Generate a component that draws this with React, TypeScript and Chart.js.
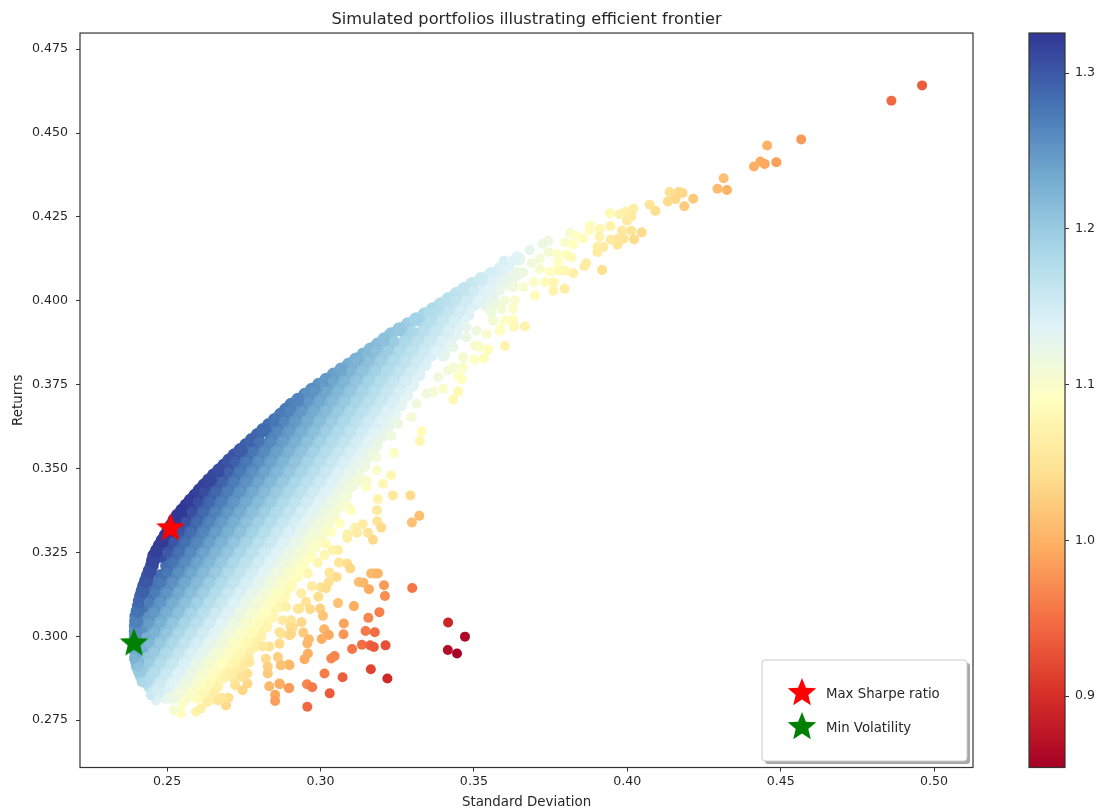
import React, { useEffect, useRef } from "react";
import { Chart, registerables } from "chart.js";

Chart.register(...registerables);

const xTicks = [0.25, 0.3, 0.35, 0.4, 0.45, 0.5];
const yTicks = [0.275, 0.3, 0.325, 0.35, 0.375, 0.4, 0.425, 0.45, 0.475];
const barTicks = [0.9, 1.0, 1.1, 1.2, 1.3];
const legendLabels = ["Max Sharpe ratio", "Min Volatility"];

const maxSharpePoint = [{ x: 0.2511, y: 0.3325 }];
const minVolPoint = [{ x: 0.2392, y: 0.2982 }];

// Dense body: returns level, then (std dev, Sharpe) pairs read along that level
const coreReturns = [.282,.285,.288,.291,.294,.297,.3,.303,.306,.309,.312,.315,.318,.321,.324,.327,.33,.333,.336,.339,.342,.345,.348,.351,.354,.357,.36,.363,.366,.369,.372,.375,.378,.381,.384,.387,.39,.393,.396,.399,.402,.405,.408];
const coreRows = [
[.2495,1.13,.252,1.12,.256,1.1,.26,1.085,.264,1.07],
[.2445,1.166,.246,1.159,.25,1.14,.254,1.122,.258,1.105,.262,1.088,.266,1.071],
[.2418,1.19,.244,1.18,.248,1.161,.252,1.143,.256,1.125,.26,1.108,.264,1.091,.268,1.075,.272,1.059],
[.2405,1.21,.242,1.202,.246,1.183,.25,1.164,.254,1.146,.258,1.128,.262,1.111,.266,1.094,.27,1.078,.274,1.062],
[.24,1.225,.244,1.205,.248,1.185,.252,1.167,.256,1.148,.26,1.131,.264,1.114,.268,1.097,.272,1.081,.276,1.065],
[.2399,1.238,.242,1.227,.246,1.207,.25,1.188,.254,1.169,.258,1.151,.262,1.134,.266,1.117,.27,1.1,.274,1.084,.278,1.068],
[.2398,1.251,.244,1.23,.248,1.21,.252,1.19,.256,1.172,.26,1.154,.264,1.136,.268,1.119,.272,1.103,.276,1.087,.28,1.071],
[.2398,1.264,.242,1.252,.246,1.232,.25,1.212,.254,1.193,.258,1.174,.262,1.156,.266,1.139,.27,1.122,.274,1.106,.278,1.09,.282,1.074],
[.24,1.275,.244,1.254,.248,1.234,.252,1.214,.256,1.195,.26,1.177,.264,1.159,.268,1.142,.272,1.125,.276,1.109,.28,1.093,.284,1.077],
[.2408,1.283,.242,1.277,.246,1.256,.25,1.236,.254,1.217,.258,1.198,.262,1.179,.266,1.162,.27,1.144,.274,1.128,.278,1.112,.282,1.096,.286,1.08],
[.2415,1.292,.244,1.279,.248,1.258,.252,1.238,.256,1.219,.26,1.2,.264,1.182,.268,1.164,.272,1.147,.276,1.13,.28,1.114,.284,1.099,.288,1.083],
[.2425,1.299,.246,1.28,.25,1.26,.254,1.24,.258,1.221,.262,1.202,.266,1.184,.27,1.167,.274,1.15,.278,1.133,.282,1.117,.286,1.101,.29,1.086],
[.2437,1.305,.248,1.282,.252,1.262,.256,1.242,.26,1.223,.264,1.205,.268,1.187,.272,1.169,.276,1.152,.28,1.136,.284,1.12,.288,1.104,.292,1.089],
[.245,1.31,.25,1.284,.254,1.264,.258,1.244,.262,1.225,.266,1.207,.27,1.189,.274,1.172,.278,1.155,.282,1.138,.286,1.122,.29,1.107,.294,1.092],
[.2458,1.318,.248,1.306,.252,1.286,.256,1.266,.26,1.246,.264,1.227,.268,1.209,.272,1.191,.276,1.174,.28,1.157,.284,1.141,.288,1.125,.292,1.11,.296,1.095],
[.2476,1.321,.25,1.308,.254,1.287,.258,1.267,.262,1.248,.266,1.229,.27,1.211,.274,1.193,.278,1.176,.282,1.16,.286,1.143,.29,1.128,.294,1.112,.298,1.097],
[.2495,1.323,.252,1.31,.256,1.289,.26,1.269,.264,1.25,.268,1.231,.272,1.213,.276,1.196,.28,1.179,.284,1.162,.288,1.146,.292,1.13,.296,1.115,.3,1.1],
[.2514,1.325,.254,1.311,.258,1.291,.262,1.271,.266,1.252,.27,1.233,.274,1.215,.278,1.198,.282,1.181,.286,1.164,.29,1.148,.294,1.133,.298,1.117,.302,1.103],
[.2535,1.325,.256,1.313,.26,1.292,.264,1.273,.268,1.254,.272,1.235,.276,1.217,.28,1.2,.284,1.183,.288,1.167,.292,1.151,.296,1.135,.3,1.12,.304,1.105],
[.2563,1.323,.258,1.314,.262,1.294,.266,1.274,.27,1.256,.274,1.237,.278,1.219,.282,1.202,.286,1.185,.29,1.169,.294,1.153,.298,1.138,.302,1.123,.306,1.108],
[.2592,1.319,.26,1.315,.264,1.295,.268,1.276,.272,1.257,.276,1.239,.28,1.221,.284,1.204,.288,1.188,.292,1.171,.296,1.155,.3,1.14,.304,1.125,.308,1.11],
[.2621,1.316,.266,1.297,.27,1.278,.274,1.259,.278,1.241,.282,1.223,.286,1.206,.29,1.19,.294,1.173,.298,1.158,.302,1.142,.306,1.127,.31,1.113],
[.2653,1.312,.268,1.299,.272,1.279,.276,1.261,.28,1.243,.284,1.225,.288,1.208,.292,1.192,.296,1.176,.3,1.16,.304,1.145,.308,1.13,.312,1.115],
[.2687,1.306,.27,1.3,.274,1.281,.278,1.263,.282,1.245,.286,1.227,.29,1.21,.294,1.194,.298,1.178,.302,1.162,.306,1.147,.31,1.132,.314,1.118],
[.272,1.301,.276,1.283,.28,1.264,.284,1.246,.288,1.229,.292,1.212,.296,1.196,.3,1.18,.304,1.164,.308,1.149,.312,1.135,.316,1.12],
[.2758,1.294,.278,1.284,.282,1.266,.286,1.248,.29,1.231,.294,1.214,.298,1.198,.302,1.182,.306,1.167,.31,1.152,.314,1.137,.318,1.123],
[.2795,1.288,.284,1.268,.288,1.25,.292,1.233,.296,1.216,.3,1.2,.304,1.184,.308,1.169,.312,1.154,.316,1.139,.32,1.125],
[.2832,1.282,.286,1.269,.29,1.252,.294,1.235,.298,1.218,.302,1.202,.306,1.186,.31,1.171,.314,1.156,.318,1.142,.322,1.127],
[.287,1.275,.288,1.271,.292,1.253,.296,1.236,.3,1.22,.304,1.204,.308,1.188,.312,1.173,.316,1.158,.32,1.144,.324,1.13],
[.2905,1.27,.294,1.255,.298,1.238,.302,1.222,.306,1.206,.31,1.19,.314,1.175,.318,1.16,.322,1.146,.326,1.132],
[.295,1.261,.296,1.257,.3,1.24,.304,1.224,.308,1.208,.312,1.192,.316,1.177,.32,1.163,.324,1.148,.328,1.134],
[.2995,1.252,.302,1.242,.306,1.225,.31,1.21,.314,1.194,.318,1.179,.322,1.165,.326,1.15,.33,1.136],
[.3043,1.242,.308,1.227,.312,1.212,.316,1.196,.32,1.181,.324,1.167,.328,1.152,.332,1.139],
[.3093,1.232,.31,1.229,.314,1.213,.318,1.198,.322,1.183,.326,1.169,.33,1.155,.334,1.141],
[.314,1.223,.316,1.215,.32,1.2,.324,1.185,.328,1.171,.332,1.157,.336,1.143,.34,1.129],
[.3187,1.214,.322,1.202,.326,1.187,.33,1.173,.334,1.159,.338,1.145,.342,1.132],
[.323,1.207,.328,1.189,.332,1.175,.336,1.161,.34,1.147,.344,1.134],
[.3285,1.196,.334,1.177,.338,1.163,.342,1.149,.346,1.136],
[.334,1.186,.336,1.179,.34,1.165,.344,1.151,.348,1.138],
[.3392,1.176,.342,1.167,.346,1.153,.35,1.14,.354,1.127],
[.3443,1.168,.348,1.155,.352,1.142,.356,1.129],
[.3494,1.159,.354,1.144,.358,1.131,.362,1.119],
[.3555,1.148,.36,1.133,.364,1.121],
];

// Finer points lying between the body's levels
const fineReturns = [.283,.286,.289,.292,.295,.298,.301,.304,.307,.31,.313,.316,.319,.322,.325,.328,.331,.334,.337,.34,.343,.346,.349,.352,.355,.358,.361,.364,.367,.37,.373,.376,.379,.382,.385,.388,.391,.394,.397,.4,.403,.406];
const fineRows = [
[.254,1.114,.258,1.097,.262,1.08],
[.248,1.153,.252,1.135,.256,1.117,.26,1.1,.264,1.083],
[.246,1.175,.25,1.156,.254,1.138,.258,1.12,.262,1.103,.266,1.086,.27,1.07],
[.244,1.197,.248,1.177,.252,1.159,.256,1.141,.26,1.123,.264,1.106,.268,1.09,.272,1.074],
[.246,1.199,.25,1.18,.254,1.161,.258,1.143,.262,1.126,.266,1.109,.27,1.093,.274,1.077],
[.244,1.221,.248,1.202,.252,1.183,.256,1.164,.26,1.146,.264,1.129,.268,1.112,.272,1.096,.276,1.08],
[.246,1.224,.25,1.204,.254,1.185,.258,1.167,.262,1.149,.266,1.132,.27,1.115,.274,1.099,.278,1.083],
[.244,1.246,.248,1.226,.252,1.206,.256,1.188,.26,1.169,.264,1.152,.268,1.134,.272,1.118,.276,1.101,.28,1.086],
[.246,1.248,.25,1.228,.254,1.209,.258,1.19,.262,1.172,.266,1.154,.27,1.137,.274,1.12,.278,1.104,.282,1.089],
[.244,1.27,.248,1.25,.252,1.23,.256,1.211,.26,1.192,.264,1.174,.268,1.157,.272,1.14,.276,1.123,.28,1.107,.284,1.092],
[.246,1.272,.25,1.252,.254,1.232,.258,1.213,.262,1.195,.266,1.177,.27,1.159,.274,1.142,.278,1.126,.282,1.11,.286,1.094],
[.248,1.274,.252,1.254,.256,1.234,.26,1.215,.264,1.197,.268,1.179,.272,1.162,.276,1.145,.28,1.129,.284,1.113,.288,1.097],
[.25,1.276,.254,1.256,.258,1.236,.262,1.218,.266,1.199,.27,1.181,.274,1.164,.278,1.147,.282,1.131,.286,1.115,.29,1.1],
[.252,1.278,.256,1.258,.26,1.238,.264,1.22,.268,1.201,.272,1.184,.276,1.167,.28,1.15,.284,1.134,.288,1.118,.292,1.103],
[.25,1.3,.254,1.28,.258,1.26,.262,1.24,.266,1.222,.27,1.204,.274,1.186,.278,1.169,.282,1.152,.286,1.136,.29,1.121,.294,1.105],
[.252,1.302,.256,1.281,.26,1.262,.264,1.242,.268,1.224,.272,1.206,.276,1.188,.28,1.171,.284,1.155,.288,1.139,.292,1.123,.296,1.108],
[.254,1.303,.258,1.283,.262,1.263,.266,1.244,.27,1.226,.274,1.208,.278,1.191,.282,1.174,.286,1.157,.29,1.141,.294,1.126,.298,1.111],
[.256,1.305,.26,1.285,.264,1.265,.268,1.246,.272,1.228,.276,1.21,.28,1.193,.284,1.176,.288,1.16,.292,1.144,.296,1.128,.3,1.113],
[.258,1.306,.262,1.286,.266,1.267,.27,1.248,.274,1.23,.278,1.212,.282,1.195,.286,1.178,.29,1.162,.294,1.146,.298,1.131,.302,1.116],
[.26,1.308,.264,1.288,.268,1.269,.272,1.25,.276,1.232,.28,1.214,.284,1.197,.288,1.181,.292,1.164,.296,1.149,.3,1.133,.304,1.118],
[.262,1.309,.266,1.289,.27,1.27,.274,1.252,.278,1.234,.282,1.216,.286,1.199,.29,1.183,.294,1.167,.298,1.151,.302,1.136,.306,1.121],
[.268,1.291,.272,1.272,.276,1.254,.28,1.236,.284,1.218,.288,1.201,.292,1.185,.296,1.169,.3,1.153,.304,1.138,.308,1.123],
[.27,1.293,.274,1.274,.278,1.255,.282,1.238,.286,1.22,.29,1.203,.294,1.187,.298,1.171,.302,1.156,.306,1.14,.31,1.126],
[.272,1.294,.276,1.275,.28,1.257,.284,1.239,.288,1.222,.292,1.205,.296,1.189,.3,1.173,.304,1.158,.308,1.143,.312,1.128],
[.278,1.277,.282,1.259,.286,1.241,.29,1.224,.294,1.207,.298,1.191,.302,1.175,.306,1.16,.31,1.145,.314,1.131],
[.28,1.279,.284,1.261,.288,1.243,.292,1.226,.296,1.209,.3,1.193,.304,1.178,.308,1.162,.312,1.147,.316,1.133],
[.286,1.262,.29,1.245,.294,1.228,.298,1.211,.302,1.195,.306,1.18,.31,1.165,.314,1.15,.318,1.135],
[.288,1.264,.292,1.247,.296,1.23,.3,1.213,.304,1.197,.308,1.182,.312,1.167,.316,1.152,.32,1.138],
[.29,1.266,.294,1.248,.298,1.232,.302,1.215,.306,1.199,.31,1.184,.314,1.169,.318,1.154,.322,1.14],
[.296,1.25,.3,1.233,.304,1.217,.308,1.201,.312,1.186,.316,1.171,.32,1.156,.324,1.142],
[.298,1.252,.302,1.235,.306,1.219,.31,1.203,.314,1.188,.318,1.173,.322,1.158,.326,1.144],
[.304,1.237,.308,1.221,.312,1.205,.316,1.19,.32,1.175,.324,1.16,.328,1.146],
[.31,1.223,.314,1.207,.318,1.192,.322,1.177,.326,1.163,.33,1.148],
[.312,1.224,.316,1.209,.32,1.194,.324,1.179,.328,1.165,.332,1.151],
[.318,1.211,.322,1.196,.326,1.181,.33,1.167,.334,1.153,.338,1.139],
[.324,1.198,.328,1.183,.332,1.169,.336,1.155,.34,1.141],
[.33,1.185,.334,1.171,.338,1.157,.342,1.143],
[.336,1.173,.34,1.159,.344,1.145],
[.338,1.175,.342,1.161,.346,1.147],
[.344,1.163,.348,1.149,.352,1.136],
[.35,1.151,.354,1.138],
[.356,1.14,.36,1.128],
];

// Frontier rim: [std dev, return, Sharpe]
const frontierRim = [
[.247,.2835,1.148],[.2431,.2865,1.178],[.2411,.2895,1.2],[.2402,.2925,1.218],[.2399,.2955,1.232],[.2398,.2985,1.245],[.2398,.3015,1.257],[.2399,.3045,1.269],[.2404,.3075,1.279],[.2411,.3105,1.288],[.242,.3135,1.295],[.2431,.3165,1.302],[.2443,.3195,1.308],[.2454,.3225,1.314],[.2467,.3255,1.319],[.2485,.3285,1.322],[.2504,.3315,1.324],[.2524,.3345,1.325],[.2549,.3375,1.324],[.2577,.3405,1.321],[.2606,.3435,1.318],[.2637,.3465,1.314],[.267,.3495,1.309],[.2703,.3525,1.304],[.2739,.3555,1.298],[.2776,.3585,1.291],[.2813,.3615,1.285],[.2851,.3645,1.278],[.2887,.3675,1.273],[.2927,.3705,1.266],[.2972,.3735,1.257],[.3019,.3765,1.247],[.3068,.3795,1.237],[.3116,.3825,1.227],[.3163,.3855,1.219],[.3208,.3885,1.211],[.3257,.3915,1.202],[.3312,.3945,1.191],[.3366,.3975,1.181],[.3417,.4005,1.172],[.3468,.4035,1.163],[.3524,.4065,1.153],[.3585,.4095,1.142],[.361,.411,1.137],[.3645,.4125,1.131],
];

// Separate points: [std dev, return, Sharpe]
const upperTail = [
[.4961,.4642,.936],[.4861,.4596,.945],[.4567,.4481,.981],[.4456,.4463,1.0],[.4486,.4413,.984],[.4434,.4415,.996],[.4448,.4408,.991],[.4413,.44,.997],[.4314,.4365,1.012],[.4294,.4334,1.009],[.4325,.433,1.001],[.4215,.4304,1.021],[.4186,.4282,1.023],[.418,.4321,1.034],[.4168,.4324,1.037],[.4138,.4324,1.045],[.4157,.4303,1.035],[.4132,.4296,1.04],[.4073,.4286,1.052],[.4092,.4268,1.043],[.402,.4274,1.063],[.3995,.4265,1.068],[.3975,.4258,1.071],[.3943,.4261,1.081],[.4013,.4251,1.059],[.3999,.4239,1.06],[.3945,.4223,1.07],[.4047,.4204,1.039],[.4013,.4209,1.049],[.3983,.4209,1.057],[.4022,.4183,1.04],[.3988,.4185,1.049],[.3968,.4167,1.05],[.3946,.4182,1.06],[.3971,.4185,1.054],[.3879,.4224,1.089],[.3911,.4214,1.078],[.3877,.4211,1.086],[.3909,.419,1.072],[.3922,.416,1.061],[.3903,.416,1.066],[.3903,.4145,1.062],[.3855,.4186,1.086],[.3813,.4203,1.102],[.3833,.4194,1.094],[.3797,.4174,1.099],[.3824,.4168,1.09],[.3743,.4179,1.116],[.3724,.417,1.12],[.3682,.4151,1.127],[.3639,.4132,1.135],[.3598,.4119,1.145],[.3623,.412,1.137],[.3585,.409,1.141],[.3563,.4085,1.146],[.3866,.4112,1.064],[.386,.4103,1.063],[.3918,.4092,1.044],[.3824,.4082,1.067],[.3797,.409,1.077],[.3775,.409,1.083],[.3748,.4087,1.09],[.3775,.4115,1.09],[.3743,.4145,1.107],[.377,.414,1.098],[.38,.4138,1.089],[.3817,.413,1.082],[.3715,.4125,1.11],[.3688,.4112,1.115],[.3715,.4095,1.102],[.3661,.4085,1.116],[.3634,.408,1.123],[.3733,.4055,1.086],[.3761,.4055,1.078],[.3759,.403,1.072],[.3796,.4036,1.063],[.3699,.4016,1.086],[.3696,.4055,1.097],[.3661,.4041,1.104],[.3628,.4041,1.114],[.3596,.4051,1.127],[.3585,.4031,1.124],[.3557,.4041,1.136],[.3634,.4001,1.101],[.3601,.4001,1.111],[.3574,.3991,1.117],[.3628,.3976,1.096],[.359,.3976,1.108],[.3557,.3966,1.115],[.3628,.3943,1.087],[.3601,.3941,1.094],[.3666,.3924,1.07],[.363,.3923,1.081],[.3585,.3916,1.092],
];
const upperFringe = [
[.3601,.3865,1.073],[.3547,.3854,1.087],[.3533,.3829,1.084],[.3501,.3825,1.093],[.3503,.3867,1.104],[.3476,.3891,1.12],[.3465,.3832,1.106],[.3465,.3802,1.097],[.3449,.3777,1.095],[.346,.3767,1.089],[.3449,.373,1.081],[.3433,.3706,1.08],[.34,.3738,1.099],[.3367,.3728,1.107],[.3345,.3723,1.113],[.3416,.3792,1.11],[.3384,.3772,1.115],[.3313,.3693,1.115],[.3297,.3653,1.108],[.3253,.3633,1.117],[.333,.3611,1.085],[.3324,.3582,1.078],[.324,.3546,1.094],[.3231,.3598,1.114],[.3171,.3549,1.119],[.3182,.3534,1.111],[.3563,.3941,1.106],[.3542,.3901,1.101],[.3585,.3911,1.091],[.3509,.3911,1.115],[.3476,.3921,1.128],[.3552,.3971,1.118],[.352,.3862,1.097],[.3433,.3802,1.107],[.3433,.3862,1.125],
];
const middleFringe = [
[.3293,.342,1.039],[.3236,.342,1.057],[.3322,.3359,1.011],[.3298,.3339,1.012],[.323,.348,1.077],[.3204,.3455,1.078],[.3184,.3495,1.098],[.3187,.3409,1.07],[.3184,.3376,1.06],[.3185,.3343,1.05],[.3198,.3324,1.039],[.3138,.3334,1.062],[.3155,.3309,1.049],[.3171,.3288,1.037],[.3113,.3324,1.068],[.3119,.3309,1.061],[.3087,.3304,1.07],[.3087,.3293,1.067],[.31,.3376,1.089],[.3089,.3388,1.097],[.3149,.3445,1.094],[.3151,.3465,1.1],[.3122,.3462,1.109],[.3089,.346,1.12],[.3089,.344,1.114],[.3073,.3413,1.111],[.3051,.3374,1.106],[.3062,.3336,1.089],[.3035,.3311,1.091],[.3018,.3275,1.085],[.3057,.3257,1.065],[.304,.3257,1.071],[.306,.322,1.052],[.3087,.3217,1.042],[.3097,.3202,1.034],[.3013,.3242,1.076],[.2991,.3219,1.076],[.2972,.3237,1.089],[.2959,.3187,1.077],[.3029,.319,1.053],[.3053,.3177,1.041],[.2975,.3267,1.098],[.2942,.3217,1.093],[.2899,.3148,1.086],[.2931,.3197,1.091],[.2888,.3088,1.069],[.2877,.3048,1.059],
];
const lowerScatter = [
[.3176,.3187,1.003],[.3165,.3187,1.007],[.3187,.3187,1.0],[.3125,.3162,1.012],[.314,.316,1.006],[.3158,.314,.994],[.3207,.3152,.983],[.321,.312,.972],[.3299,.3144,.953],[.3027,.3162,1.045],[.3002,.3146,1.048],[.3018,.3143,1.041],[.2972,.3149,1.06],[.2993,.3118,1.042],[.2937,.3128,1.065],[.2953,.3103,1.051],[.3057,.3099,1.014],[.3109,.309,.994],[.2966,.3081,1.039],[.2999,.3083,1.028],[.3008,.3061,1.018],[.2931,.3083,1.052],[.2938,.3042,1.035],[.2904,.3048,1.05],[.3192,.3072,.962],[.3156,.3055,.968],[.3076,.3038,.988],[.3147,.3016,.958],[.3177,.3012,.948],[.3075,.3006,.978],[.3012,.3021,1.003],[.3027,.3004,.992],[.3004,.2992,.996],[.2944,.3011,1.023],[.2902,.3028,1.043],[.2962,.2991,1.01],[.2957,.2979,1.007],[.2904,.3008,1.036],[.2871,.3008,1.048],[.3135,.2975,.949],[.3162,.2973,.94],[.3174,.2968,.935],[.3212,.2973,.926],[.3103,.2962,.955],[.3046,.2941,.966],[.3035,.2934,.967],[.2959,.2949,.997],[.2948,.2932,.995],[.2899,.2914,1.005],[.2871,.2914,1.015],[.3164,.2902,.917],[.3218,.2874,.893],[.3013,.2889,.959],[.3072,.2878,.937],[.2956,.2857,.967],[.2973,.2848,.958],[.2898,.2846,.982],[.2868,.2857,.996],[.303,.283,.934],[.2957,.279,.944],[.3416,.3041,.89],[.3471,.2999,.864],[.3415,.2959,.866],[.3445,.2949,.856],
];
const bottomFringe = [
[.2545,.277,1.088],[.2523,.278,1.103],[.255,.2797,1.097],[.2507,.2814,1.122],[.2463,.2809,1.14],[.2447,.2824,1.154],[.2417,.2864,1.185],[.2406,.2909,1.209],[.2392,.2933,1.226],[.2594,.2775,1.07],[.261,.2785,1.067],[.2632,.2804,1.065],[.2654,.2831,1.067],[.2665,.2809,1.054],[.2692,.2794,1.038],[.27,.2817,1.043],[.2679,.2816,1.051],[.2722,.2854,1.048],[.2746,.2839,1.034],[.2762,.2859,1.035],[.2746,.2879,1.048],[.2762,.2889,1.046],[.2686,.2879,1.072],[.2708,.2889,1.067],[.2768,.2922,1.056],[.2822,.2933,1.039],[.2861,.2938,1.027],[.2828,.2909,1.029],[.2828,.2889,1.022],[.2871,.2914,1.015],[.2897,.2916,1.007],[.2833,.2851,1.006],[.2866,.2859,.998],[.2897,.2845,.982],[.2852,.2826,.991],[.2852,.2807,.984],[.2833,.297,1.048],[.2812,.297,1.056],[.2866,.2978,1.039],[.2899,.3003,1.036],[.2866,.3013,1.051],[.291,.3028,1.041],[.2926,.3082,1.053],
];

const colormapStops = ["#a50026","#d73027","#f46d43","#fdae61","#fee090","#ffffbf","#e0f3f8","#abd9e9","#74add1","#4575b4","#313695"];
const SHARPE_MIN = 0.8541;
const SHARPE_MAX = 1.3257;
const INK = "#262626";
const FONT = "DejaVu Sans";

const hexRgb = (h: string) => [1, 3, 5].map((i) => parseInt(h.slice(i, i + 2), 16));
const sharpeColor = (s: number) => {
  const t = Math.min(1, Math.max(0, (s - SHARPE_MIN) / (SHARPE_MAX - SHARPE_MIN))) * 10;
  const i = Math.min(9, Math.floor(t));
  const a = hexRgb(colormapStops[i]);
  const b = hexRgb(colormapStops[i + 1]);
  const f = t - i;
  return `rgb(${a.map((v, k) => Math.round(v + (b[k] - v) * f)).join(",")})`;
};

const tracePath = (ctx: CanvasRenderingContext2D, cx: number, cy: number, R: number) => {
  ctx.beginPath();
  for (let i = 0; i < 10; i++) {
    const r = i % 2 === 0 ? R : R * 0.44;
    const a = -Math.PI / 2 + (i * Math.PI) / 5;
    ctx.lineTo(cx + r * Math.cos(a), cy + r * Math.sin(a));
  }
  ctx.closePath();
};

const makeStar = (color: string) => {
  const c = document.createElement("canvas");
  c.width = 32;
  c.height = 32;
  const ctx = c.getContext("2d")!;
  ctx.fillStyle = color;
  tracePath(ctx, 16, 17, 15);
  ctx.fill();
  return c;
};

const rowsToPoints = (levels: number[], rows: number[][]) =>
  rows.flatMap((row, r) => {
    const out: { x: number; y: number; s: number }[] = [];
    for (let i = 0; i < row.length; i += 2) out.push({ x: row[i], y: levels[r], s: row[i + 1] });
    return out;
  });
const toPoints = (list: number[][]) => list.map(([x, y, s]) => ({ x, y, s }));

const corePoints = [...rowsToPoints(coreReturns, coreRows), ...toPoints(frontierRim)];
const finePoints = rowsToPoints(fineReturns, fineRows);
const loosePoints = toPoints([...middleFringe, ...upperFringe, ...upperTail, ...bottomFringe, ...lowerScatter]);

export default function App() {
  const mainRef = useRef<HTMLCanvasElement>(null);
  const barRef = useRef<HTMLCanvasElement>(null);

  useEffect(() => {
    const redStar = makeStar("#ff0000");
    const greenStar = makeStar("#008000");
    const colorOf = (c: any) => sharpeColor(c.raw?.s ?? 1);

    const framePlugin = {
      id: "frame",
      afterDraw(chart: any) {
        const { ctx, chartArea: a } = chart;
        ctx.save();
        ctx.strokeStyle = "#333333";
        ctx.lineWidth = 1.2;
        ctx.strokeRect(a.left, a.top, a.right - a.left, a.bottom - a.top);
        ctx.restore();
      },
    };

    const legendPlugin = {
      id: "legendBox",
      afterDraw(chart: any) {
        const { ctx } = chart;
        ctx.save();
        ctx.fillStyle = "#a8a8a8";
        ctx.beginPath();
        ctx.roundRect(765, 663, 205, 101, 3);
        ctx.fill();
        ctx.fillStyle = "#ffffff";
        ctx.strokeStyle = "#cccccc";
        ctx.lineWidth = 1;
        ctx.beginPath();
        ctx.roundRect(762, 660, 205, 101, 3);
        ctx.fill();
        ctx.stroke();
        ctx.drawImage(redStar, 786, 676);
        ctx.drawImage(greenStar, 786, 710);
        ctx.fillStyle = INK;
        ctx.font = `13.3px "${FONT}"`;
        ctx.textBaseline = "middle";
        ctx.fillText(legendLabels[0], 826, 694.5);
        ctx.fillText(legendLabels[1], 826, 728.5);
        ctx.restore();
      },
    };

    const main = new Chart(mainRef.current!, {
      type: "scatter",
      data: {
        datasets: [
          { label: legendLabels[0], data: maxSharpePoint, pointStyle: redStar, pointRadius: 15 },
          { label: legendLabels[1], data: minVolPoint, pointStyle: greenStar, pointRadius: 15 },
          { label: "Portfolios", data: loosePoints, pointRadius: 5, pointBorderWidth: 0, backgroundColor: colorOf },
          { label: "Portfolios (fine)", data: finePoints, pointRadius: 5, pointBorderWidth: 0, backgroundColor: colorOf },
          { label: "Portfolios (body)", data: corePoints, pointRadius: 7, pointBorderWidth: 0, backgroundColor: colorOf },
        ],
      } as any,
      options: {
        animation: false,
        responsive: false,
        layout: { padding: { left: 10, right: 126, top: 0, bottom: 0 } },
        plugins: {
          legend: { display: false },
          tooltip: { enabled: false },
          title: {
            display: true,
            text: "Simulated portfolios illustrating efficient frontier",
            color: INK,
            fullSize: false,
            font: { family: FONT, size: 16.2, weight: "normal", lineHeight: 1.2 },
            padding: { top: 10.4, bottom: 3.2 },
          },
        },
        scales: {
          x: {
            type: "linear",
            min: 0.2216,
            max: 0.5127,
            afterBuildTicks: (s: any) => { s.ticks = xTicks.map((value) => ({ value })); },
            afterFit: (s: any) => { s.height = 43.5; },
            grid: { drawOnChartArea: false, drawTicks: true, tickLength: 4, color: "#333333" },
            border: { display: false },
            ticks: {
              color: INK,
              maxRotation: 0,
              padding: 3,
              font: { family: FONT, size: 12.6 },
              callback: (v: any) => Number(v).toFixed(2),
            },
            title: {
              display: true,
              text: "Standard Deviation",
              color: INK,
              font: { family: FONT, size: 13.4 },
              padding: { top: 1, bottom: 0 },
            },
          },
          y: {
            type: "linear",
            min: 0.2609,
            max: 0.4798,
            afterBuildTicks: (s: any) => { s.ticks = yTicks.map((value) => ({ value })); },
            afterFit: (s: any) => { s.width = 70; },
            grid: { drawOnChartArea: false, drawTicks: true, tickLength: 4, color: "#333333" },
            border: { display: false },
            ticks: {
              color: INK,
              padding: 8,
              font: { family: FONT, size: 12.6 },
              callback: (v: any) => Number(v).toFixed(3),
            },
            title: {
              display: true,
              text: "Returns",
              color: INK,
              font: { family: FONT, size: 13.4 },
              padding: { top: 0, bottom: 2 },
            },
          },
        },
      } as any,
      plugins: [framePlugin, legendPlugin],
    });

    const gradientPlugin = {
      id: "gradientFill",
      beforeDatasetsDraw(chart: any) {
        const { ctx, chartArea: a, scales } = chart;
        const g = ctx.createLinearGradient(0, scales.y.getPixelForValue(SHARPE_MIN), 0, scales.y.getPixelForValue(SHARPE_MAX));
        colormapStops.forEach((c, i) => g.addColorStop(i / 10, c));
        ctx.save();
        ctx.fillStyle = g;
        ctx.fillRect(a.left, a.top, a.right - a.left, a.bottom - a.top);
        ctx.restore();
      },
    };

    const bar = new Chart(barRef.current!, {
      type: "scatter",
      data: { datasets: [{ label: "Sharpe", data: [] }] },
      options: {
        animation: false,
        responsive: false,
        layout: { padding: { left: 1029, right: 0, top: 33, bottom: 43.5 } },
        plugins: { legend: { display: false }, tooltip: { enabled: false } },
        scales: {
          x: { display: false, min: 0, max: 1 },
          y: {
            type: "linear",
            position: "right",
            min: SHARPE_MIN,
            max: SHARPE_MAX,
            afterBuildTicks: (s: any) => { s.ticks = barTicks.map((value) => ({ value })); },
            afterFit: (s: any) => { s.width = 34; },
            grid: { drawOnChartArea: false, drawTicks: true, tickLength: 4, color: "#333333" },
            border: { display: false },
            ticks: {
              color: INK,
              padding: 6,
              font: { family: FONT, size: 12.6 },
              callback: (v: any) => Number(v).toFixed(1),
            },
          },
        },
      } as any,
      plugins: [gradientPlugin, framePlugin],
    });

    return () => {
      main.destroy();
      bar.destroy();
    };
  }, []);

  return (
    <div style={{ position: "absolute", left: 0, top: 0, width: 1099, height: 811, background: "#fff" }}>
      <canvas ref={mainRef} width={1099} height={811} style={{ position: "absolute", left: 0, top: 0 }} />
      <canvas ref={barRef} width={1099} height={811} style={{ position: "absolute", left: 0, top: 0 }} />
    </div>
  );
}
